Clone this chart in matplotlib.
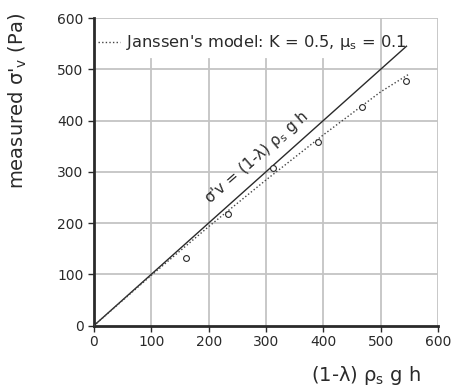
import matplotlib
matplotlib.use('Agg')
import matplotlib.pyplot as plt

# measured points
x_meas = [160, 234, 312, 391, 467, 544]
y_meas = [131, 217, 308, 358, 427, 478]

# hydrostatic line sigma'v = (1-lambda) rho_s g h
x_hydro = [0, 545]
y_hydro = [0, 545]

# Janssen's model
x_jan = [0, 100, 200, 300, 400, 500, 550]
y_jan = [0, 98, 193, 284, 372, 456, 491]

x_ticks = [0, 100, 200, 300, 400, 500, 600]
y_ticks = [0, 100, 200, 300, 400, 500, 600]

grid_col = '#c4c4c4'
ink = '#2a2a2a'

fig = plt.figure(figsize=(4.51, 3.92), dpi=100)
ax = fig.add_axes([0.2084, 0.1696, 0.7628, 0.7844])

ax.set_xlim(0, 600)
ax.set_ylim(0, 600)

# grid: inner verticals stop under the legend
for xv in x_ticks[1:]:
    top = 520 if xv < 500 else 600
    ax.plot([xv, xv], [0, top], color=grid_col, lw=1.3, zorder=1)
for yv in y_ticks[1:]:
    ax.plot([0, 600], [yv, yv], color=grid_col, lw=1.3, zorder=1)

ax.plot(x_hydro, y_hydro, color=ink, lw=1.0, zorder=3)
ax.plot(x_jan, y_jan, color='#444444', lw=1.0, linestyle=(0, (1, 1.6)), zorder=3)
ax.plot(x_meas, y_meas, 'o', ms=4.2, mfc='white', mec=ink, mew=0.8, zorder=4)

# legend drawn by hand
ax.plot([0.012, 0.076], [0.922, 0.922], transform=ax.transAxes,
        color='#444444', lw=1.0, linestyle=(0, (1, 1.6)), clip_on=False)
ax.text(0.093, 0.922, "Janssen's model: K = 0.5, μ$_\\mathregular{s}$ = 0.1",
        transform=ax.transAxes, ha='left', va='center', fontsize=11.7, color=ink)

ax.text(283, 327, "σ'v = (1-λ) ρ$_\\mathregular{s}$ g h",
        rotation=41, ha='center', va='center', rotation_mode='anchor',
        fontsize=11, color=ink)

for side in ['top', 'right']:
    ax.spines[side].set_visible(False)
for side in ['left', 'bottom']:
    ax.spines[side].set_linewidth(2.0)
    ax.spines[side].set_color(ink)

ax.set_xticks(x_ticks)
ax.set_yticks(y_ticks)
ax.tick_params(direction='out', length=4, width=1, colors=ink, labelsize=10)
ax.tick_params(axis='x', pad=3)

fig.text(0.04, 0.742, "measured σ'$_\\mathregular{v}$ (Pa)", rotation=90,
         ha='center', va='center', fontsize=14, color=ink)
fig.text(0.812, 0.043, "(1-λ) ρ$_\\mathregular{s}$ g h",
         ha='center', va='center', fontsize=14, color=ink)

fig.savefig('out.png', dpi=100)
